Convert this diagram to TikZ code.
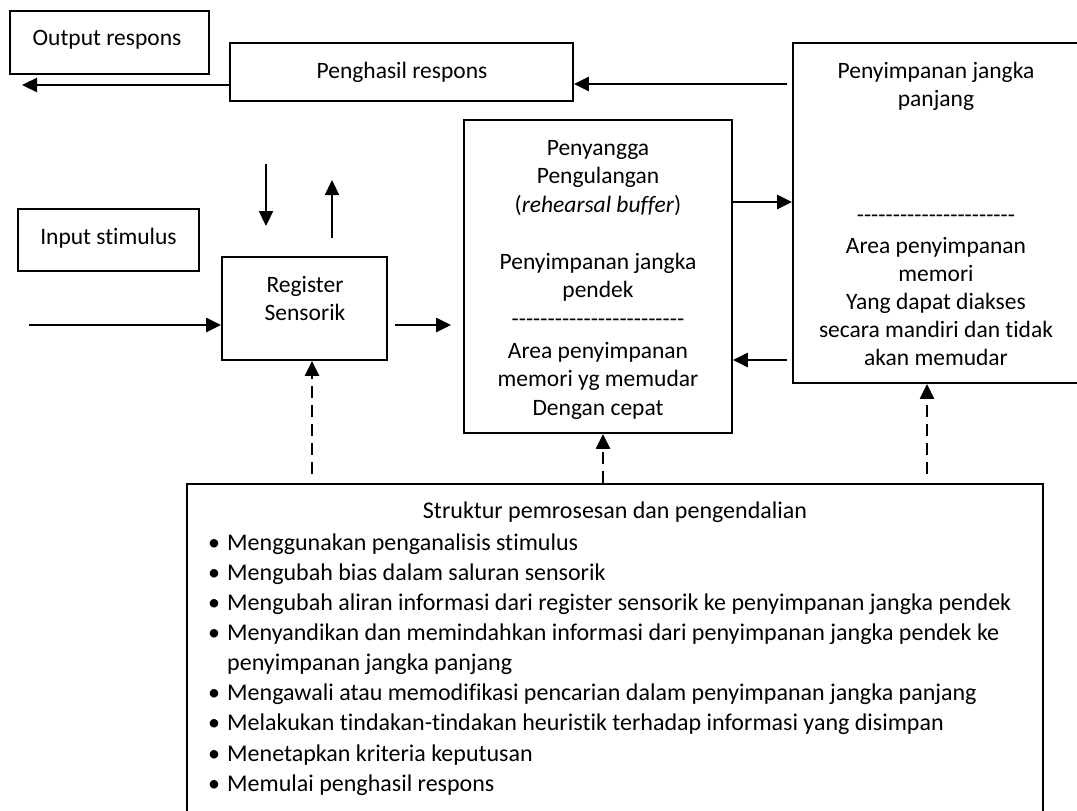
\documentclass[tikz,border=0pt]{standalone}
\usepackage{fontspec}
\setmainfont{Carlito}[Ligatures=NoCommon]
\usetikzlibrary{arrows.meta,fit}
\newcommand\fs{\fontsize{23.5}{28.5}\selectfont}
\newcommand\fsb{\fontsize{24}{29}\selectfont}
\newcommand\hyrow[1]{\foreach \k in {1,...,#1}{\mbox{-}}}
\newcommand\bul{\llap{\textbullet\hspace{7pt}}}
\tikzset{
  box/.style={draw, line width=1.8pt, rectangle, inner sep=0pt},
  lbl/.style={font=\fs, inner sep=0pt, anchor=mid, yshift=-6pt},
  lline/.style={font=\fsb, inner sep=0pt, anchor=mid west, yshift=-6pt},
  arr/.style={line width=2.3pt, -{Triangle[length=15pt,width=14pt]}},
  darr/.style={arr, dash pattern=on 12pt off 7pt}
}
\begin{document}
\begin{tikzpicture}[x=1pt,y=-1pt]
\useasboundingbox (0,0) rectangle (1077,811);
\clip (0,0) rectangle (1077,811);

% boxes
\node[box, fit={(10,11)(209,74)}] (out) {};
\node[box, fit={(230,43)(573,101)}] (gen) {};
\node[box, fit={(793,43)(1090,383)}] (lts) {};
\node[box, fit={(464,120)(732,433)}] (sts) {};
\node[box, fit={(222,257)(387,360)}] (reg) {};
\node[box, fit={(18,209)(199,271)}] (inp) {};
\node[box, fit={(187,484)(1043,840)}] (ctl) {};

% box texts
\node[lbl] (outT) at (107,37) {Output respons};
\node[lbl] (genT) at (402,70) {Penghasil respons};
\node[lbl] (inpT) at (108.5,236) {Input stimulus};
\node[lbl] (regT1) at (305,284) {Register};
\node[lbl] (regT2) at (305,312) {Sensorik};

\node[lbl] (stsT1) at (598,147) {Penyangga};
\node[lbl] (stsT2) at (598,175.5) {Pengulangan};
\node[lbl] (stsT3) at (598,204) {(\textit{rehearsal buffer})};
\node[lbl] (stsT4) at (598,261) {Penyimpanan jangka};
\node[lbl] (stsT5) at (598,289.5) {pendek};
\node[lbl] (stsT6) at (598,318) {\hyrow{24}};
\node[lbl] (stsT7) at (598,350) {Area penyimpanan};
\node[lbl] (stsT8) at (598,378.5) {memori yg memudar};
\node[lbl] (stsT9) at (598,407) {Dengan cepat};

\node[lbl] (ltsT1) at (936,70) {Penyimpanan jangka};
\node[lbl] (ltsT2) at (936,98.5) {panjang};
\node[lbl] (ltsT3) at (936,214) {\hyrow{22}};
\node[lbl] (ltsT4) at (936,245) {Area penyimpanan};
\node[lbl] (ltsT5) at (936,273) {memori};
\node[lbl] (ltsT6) at (936,301) {Yang dapat diakses};
\node[lbl] (ltsT7) at (936,329) {secara mandiri dan tidak};
\node[lbl] (ltsT8) at (936,357) {akan memudar};

\node[lbl, font=\fsb] (ctlT0) at (615,510) {Struktur pemrosesan dan pengendalian};
\node[lline] (ctlT1) at (227,542) {\bul Menggunakan penganalisis stimulus};
\node[lline] (ctlT2) at (227,572) {\bul Mengubah bias dalam saluran sensorik};
\node[lline] (ctlT3) at (227,602) {\bul Mengubah aliran informasi dari register sensorik ke penyimpanan jangka pendek};
\node[lline] (ctlT4) at (227,632) {\bul Menyandikan dan memindahkan informasi dari penyimpanan jangka pendek ke};
\node[lline] (ctlT4b) at (227,662) {penyimpanan jangka panjang};
\node[lline] (ctlT5) at (227,692) {\bul Mengawali atau memodifikasi pencarian dalam penyimpanan jangka panjang};
\node[lline] (ctlT6) at (227,722) {\bul Melakukan tindakan-tindakan heuristik terhadap informasi yang disimpan};
\node[lline] (ctlT7) at (227,753) {\bul Menetapkan kriteria keputusan};
\node[lline] (ctlT8) at (227,783) {\bul Memulai penghasil respons};

% helper coordinates for connector rows and columns
\coordinate (outTip) at (22,85);
\coordinate (row84) at (0,84);
\coordinate (row202) at (0,202);
\coordinate (row360) at (0,360);
\coordinate (inStart) at (29,325);
\coordinate (row325) at (0,325);
\coordinate (dnA) at (266,164);
\coordinate (dnB) at (266,226);
\coordinate (upA) at (332,238);
\coordinate (upB) at (332,180);
\coordinate (col1) at (312,0);
\coordinate (col2) at (603,0);
\coordinate (col3) at (927,0);

% solid connectors
\draw[arr] (gen.west |- outTip) -- (outTip);
\draw[arr] ([xshift=-5pt]lts.west |- row84) -- (gen.east |- row84);
\draw[arr] (sts.east |- row202) -- (lts.west |- row202);
\draw[arr] ([xshift=-5pt]lts.west |- row360) -- (sts.east |- row360);
\draw[arr] (inStart) -- (reg.west |- inStart);
\draw[arr] ([xshift=7pt]reg.east |- row325) -- ([xshift=-12pt]sts.west |- row325);
\draw[arr] (dnA) -- (dnB);
\draw[arr] (upA) -- (upB);

% dashed control connectors
\draw[darr] ([yshift=9pt]ctl.north -| col1) -- (reg.south -| col1);
\draw[darr] (ctl.north -| col2) -- (sts.south -| col2);
\draw[darr] ([yshift=9pt]ctl.north -| col3) -- (lts.south -| col3);
\end{tikzpicture}
\end{document}
